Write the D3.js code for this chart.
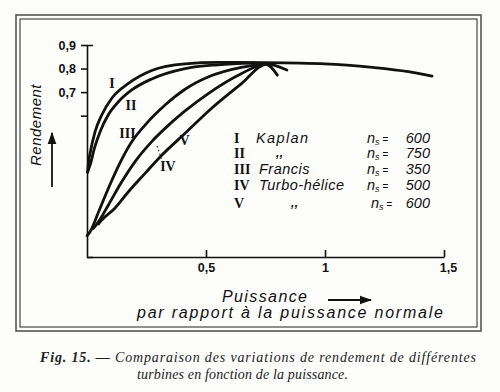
<!DOCTYPE html>
<html>
<head>
  <title>D3</title>
  <meta charset='utf-8'>
  <style>
    body { margin: 0; background: #fff; }
    svg { display: block; }
  </style>
</head>
<body>
  <div id="chart"></div>

  <script src="https://cdn.jsdelivr.net/npm/d3@7"></script>

  <script type="text/javascript">
    var width = 500,
        height = 392;

    // rendement vs puissance (par rapport a la puissance normale)
    var curveI = [[0.003,0.36],[0.006,0.40],[0.013,0.44],[0.034,0.532],[0.062,0.603],[0.104,0.674],
                  [0.174,0.737],[0.272,0.792],[0.412,0.820],[0.55,0.826],[0.75,0.825],[1.0,0.82],
                  [1.2,0.805],[1.35,0.787],[1.45,0.768]];
    var curveII = [[0.002,0.36],[0.013,0.39],[0.031,0.461],[0.055,0.532],[0.089,0.603],[0.132,0.659],
                   [0.188,0.709],[0.272,0.756],[0.412,0.800],[0.55,0.816],[0.70,0.823]];
    var curveIII = [[0.0,0.09],[0.013,0.107],[0.048,0.19],[0.09,0.292],[0.134,0.39],[0.188,0.489],
                    [0.244,0.56],[0.328,0.645],[0.412,0.712],[0.511,0.765],[0.648,0.805],[0.752,0.82]];
    var curveIV = [[0.027,0.121],[0.048,0.149],[0.09,0.221],[0.146,0.319],[0.202,0.405],[0.272,0.49],
                   [0.328,0.546],[0.412,0.62],[0.511,0.695],[0.648,0.778],[0.752,0.82],[0.84,0.794]];
    var curveV = [[0.048,0.14],[0.062,0.157],[0.117,0.207],[0.174,0.277],[0.244,0.355],[0.315,0.433],
                  [0.412,0.525],[0.511,0.62],[0.648,0.735],[0.752,0.818],[0.80,0.772]];

    var xTicks = [0.5, 1, 1.5];
    var yTicks = [0.6, 0.7, 0.8, 0.9];
    var yTickLabels = ["", "0,7", "0,8", "0,9"];

    // legende
    var numerals = ["I", "II", "III", "IV", "V"];
    var types = ["Kaplan", ",,", "Francis", "Turbo-h\u00E9lice", ",,"];
    var ns = [600, 750, 350, 500, 600];

    // etiquettes sur les courbes: [texte, puissance, rendement]
    var curveLabels = [["I", 0.105, 0.74], ["II", 0.185, 0.645], ["III", 0.17, 0.525],
                       ["V", 0.41, 0.495], ["IV", 0.34, 0.385]];

    var x = d3.scaleLinear().domain([0, 1.5]).range([87, 444]);
    var y = d3.scaleLinear().domain([0, 0.9]).range([257, 45]);

    var svg = d3.select("#chart")
                .append("svg")
                .attr("width", width)
                .attr("height", height);

    svg.append("rect").attr("width", width).attr("height", height).attr("fill", "#fdfdfc");

    // double cadre
    svg.append("rect")
        .attr("x", 16).attr("y", 15).attr("width", 465).attr("height", 316)
        .attr("fill", "none").attr("stroke", "#555").attr("stroke-width", 1.6);
    svg.append("rect")
        .attr("x", 20).attr("y", 19).attr("width", 457).attr("height", 308)
        .attr("fill", "none").attr("stroke", "#222").attr("stroke-width", 1);

    var fmt = function(d) { return String(d).replace(".", ","); };

    var yAxis = svg.append("g")
        .attr("transform", "translate(87,0)")
        .call(d3.axisLeft(y).tickValues(yTicks)
              .tickFormat(function(d, i) { return yTickLabels[i]; })
              .tickSize(6).tickSizeOuter(-6).tickPadding(5));

    var xAxis = svg.append("g")
        .attr("transform", "translate(0,257)")
        .call(d3.axisBottom(x).tickValues(xTicks).tickFormat(fmt)
              .tickSizeInner(-7).tickSizeOuter(0).tickPadding(6));

    [yAxis, xAxis].forEach(function(g) {
      g.selectAll("path, line").attr("stroke", "#111").attr("stroke-width", 1.6);
      g.selectAll("text")
        .attr("fill", "#111")
        .style("font-family", "'Liberation Sans', Arial, sans-serif")
        .style("font-size", "12.5px")
        .style("font-weight", "bold");
    });
    xAxis.selectAll("text").attr("dx", function(d) { return d === 1.5 ? 4 : 0; });

    var line = d3.line()
        .x(function(d) { return x(d[0]); })
        .y(function(d) { return y(d[1]); })
        .curve(d3.curveMonotoneX);

    svg.selectAll(".courbe")
        .data([curveI, curveII, curveIII, curveIV, curveV])
        .enter()
        .append("path")
        .attr("class", "courbe")
        .attr("d", line)
        .attr("fill", "none")
        .attr("stroke", "#111")
        .attr("stroke-width", 2.8)
        .attr("stroke-linecap", "round");

    // trait pointille vers la courbe IV
    svg.append("line")
        .attr("x1", x(0.294)).attr("y1", y(0.471))
        .attr("x2", x(0.319)).attr("y2", y(0.40))
        .attr("stroke", "#333").attr("stroke-width", 1.2)
        .attr("stroke-dasharray", "1.5,2.5");

    svg.selectAll(".lab")
        .data(curveLabels)
        .enter()
        .append("text")
        .attr("class", "lab")
        .attr("x", function(d) { return x(d[1]); })
        .attr("y", function(d) { return y(d[2]); })
        .attr("text-anchor", "middle")
        .attr("dy", "0.35em")
        .style("font-family", "'Liberation Serif', 'Times New Roman', serif")
        .style("font-weight", "bold")
        .style("font-size", "14px")
        .attr("fill", "#111")
        .text(function(d) { return d[0]; });

    // legende
    var rowY = [143, 158, 173.5, 190, 208];
    var leg = svg.append("g");
    numerals.forEach(function(n, i) {
      var ditto = types[i] === ",,";
      leg.append("text")
          .attr("x", 234).attr("y", rowY[i])
          .style("font-family", "'Liberation Serif', serif")
          .style("font-weight", "bold").style("font-size", "14px")
          .attr("fill", "#111")
          .text(n);
      leg.append("text")
          .attr("x", ditto ? (i === 1 ? 276 : 291) : (i === 0 ? 256 : 259))
          .attr("y", ditto ? rowY[i] - 1 : rowY[i])
          .style("font-family", "'Liberation Sans', Arial, sans-serif")
          .style("font-style", "italic")
          .style("font-weight", ditto ? "bold" : "normal")
          .style("font-size", ditto ? "12px" : "14.5px")
          .style("letter-spacing", i === 0 ? "1.4px" : "0.5px")
          .attr("fill", "#111")
          .text(types[i]);
      var n2 = leg.append("text")
          .attr("x", i === 4 ? 371 : 367).attr("y", rowY[i])
          .style("font-family", "'Liberation Sans', Arial, sans-serif")
          .style("font-style", "italic").style("font-size", "14.5px")
          .attr("fill", "#111");
      n2.append("tspan").text("n");
      n2.append("tspan").attr("dy", 2).style("font-size", "9px").text("s");
      n2.append("tspan").attr("dy", -2).style("font-size", "10px").text(" =");
      leg.append("text")
          .attr("x", 430).attr("y", rowY[i])
          .attr("text-anchor", "end")
          .style("font-family", "'Liberation Sans', Arial, sans-serif")
          .style("font-style", "italic").style("font-size", "14.5px")
          .attr("fill", "#111")
          .text(ns[i]);
    });

    // titres des axes
    svg.append("text")
        .attr("transform", "translate(41,125) rotate(-90)")
        .attr("text-anchor", "middle")
        .style("font-family", "'Liberation Sans', Arial, sans-serif")
        .style("font-style", "italic").style("font-size", "15px")
        .style("letter-spacing", "0.5px")
        .attr("fill", "#111")
        .text("Rendement");

    var defs = svg.append("defs");
    defs.append("marker")
        .attr("id", "fleche")
        .attr("viewBox", "0 0 10 10")
        .attr("refX", 9).attr("refY", 5)
        .attr("markerWidth", 7).attr("markerHeight", 7)
        .attr("orient", "auto")
        .append("path").attr("d", "M0,1.5L10,5L0,8.5z").attr("fill", "#111");

    svg.append("line")
        .attr("x1", 52).attr("y1", 187).attr("x2", 52).attr("y2", 133)
        .attr("stroke", "#111").attr("stroke-width", 1.8)
        .attr("marker-end", "url(#fleche)");

    svg.append("text")
        .attr("x", 222).attr("y", 302)
        .style("font-family", "'Liberation Sans', Arial, sans-serif")
        .style("font-style", "italic").style("font-size", "16px")
        .attr("textLength", 85)
        .attr("fill", "#111")
        .text("Puissance");

    svg.append("line")
        .attr("x1", 328).attr("y1", 300).attr("x2", 371).attr("y2", 300)
        .attr("stroke", "#111").attr("stroke-width", 1.8)
        .attr("marker-end", "url(#fleche)");

    svg.append("text")
        .attr("x", 137).attr("y", 318)
        .style("font-family", "'Liberation Sans', Arial, sans-serif")
        .style("font-style", "italic").style("font-size", "16px")
        .attr("textLength", 306)
        .attr("fill", "#111")
        .text("par  rapport \u00E0 la puissance normale");

    // legende de la figure
    var cap1 = svg.append("text")
        .attr("x", 40).attr("y", 362)
        .attr("textLength", 436)
        .style("font-family", "'Liberation Serif', 'Times New Roman', serif")
        .style("font-style", "italic").style("font-size", "14px")
        .attr("fill", "#222");
    cap1.append("tspan").style("font-weight", "bold").text("Fig. 15. \u2014 ");
    cap1.append("tspan").text("Comparaison des variations de rendement de diff\u00E9rentes");

    svg.append("text")
        .attr("x", 137).attr("y", 379)
        .attr("textLength", 211)
        .style("font-family", "'Liberation Serif', 'Times New Roman', serif")
        .style("font-style", "italic").style("font-size", "14px")
        .attr("fill", "#222")
        .text("turbines en fonction de la puissance.");
  </script>
</body>
</html>
